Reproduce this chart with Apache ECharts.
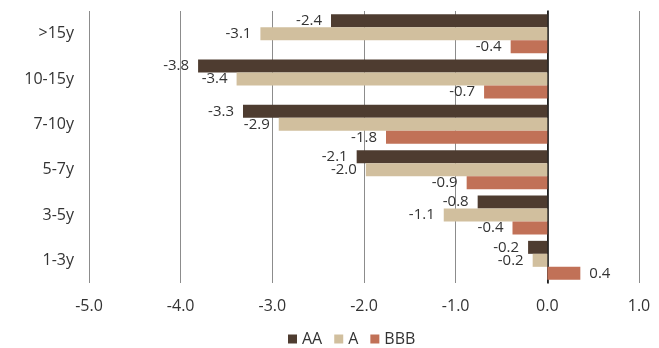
<!DOCTYPE html>
<html>
<head>
<meta charset="utf-8">
<script src="https://cdn.jsdelivr.net/npm/echarts@6/dist/echarts.min.js"></script>
<style>
  html, body { margin: 0; padding: 0; background: #fff; }
  #chart { width: 659px; height: 348px; }
</style>
</head>
<body>
<div id="chart"></div>
<script>
// Maturity buckets, listed top to bottom
const buckets = ['>15y', '10-15y', '7-10y', '5-7y', '3-5y', '1-3y'];

// Spread change by rating bucket
const seriesNames = ['AA', 'A', 'BBB'];
const aaValues  = [-2.36, -3.81, -3.32, -2.08, -0.76, -0.21];
const aValues   = [-3.13, -3.39, -2.93, -1.98, -1.13, -0.16];
const bbbValues = [-0.40, -0.69, -1.76, -0.88, -0.38, 0.36];

const xTicks = { min: -5, max: 1, step: 1 };

const colors = ['#4e3c30', '#d1bf9e', '#c17157'];
const fontFamily = '"Open Sans", "Noto Sans", sans-serif';

function makeSeries(name, values, color) {
  return {
    name: name,
    type: 'bar',
    data: values.map(v => ({
      value: v,
      label: { position: v < 0 ? 'left' : 'right' }
    })),
    itemStyle: { color: color },
    barGap: '0%',
    barCategoryGap: '14%',
    label: {
      show: true,
      distance: 9,
      fontFamily: fontFamily,
      fontSize: 15,
      color: '#333',
      formatter: p => p.value.toFixed(1)
    }
  };
}

const chart = echarts.init(document.getElementById('chart'), null, { renderer: 'canvas' });
chart.setOption({
  animation: false,
  textStyle: { fontFamily: fontFamily },
  grid: { left: 89, right: 20, top: 11, bottom: 65, containLabel: false },
  legend: {
    data: seriesNames,
    left: 283,
    top: 326,
    itemWidth: 9,
    itemHeight: 9,
    itemGap: 12,
    icon: 'rect',
    textStyle: { fontFamily: fontFamily, fontSize: 16, color: '#333' }
  },
  xAxis: {
    type: 'value',
    min: xTicks.min,
    max: xTicks.max,
    interval: xTicks.step,
    axisLine: { show: false },
    axisTick: { show: false },
    splitLine: { show: true, lineStyle: { color: '#8c8c8c', width: 1 } },
    axisLabel: {
      fontFamily: fontFamily,
      fontSize: 16,
      color: '#333',
      margin: 15,
      formatter: v => v.toFixed(1)
    }
  },
  yAxis: {
    type: 'category',
    data: buckets,
    inverse: true,
    axisLine: { show: true, onZero: true, lineStyle: { color: '#000', width: 1.5 } },
    axisTick: { show: false },
    axisLabel: {
      fontFamily: fontFamily,
      fontSize: 16,
      color: '#333',
      margin: 15
    }
  },
  series: [
    makeSeries(seriesNames[0], aaValues, colors[0]),
    makeSeries(seriesNames[1], aValues, colors[1]),
    makeSeries(seriesNames[2], bbbValues, colors[2])
  ]
});
</script>
</body>
</html>
